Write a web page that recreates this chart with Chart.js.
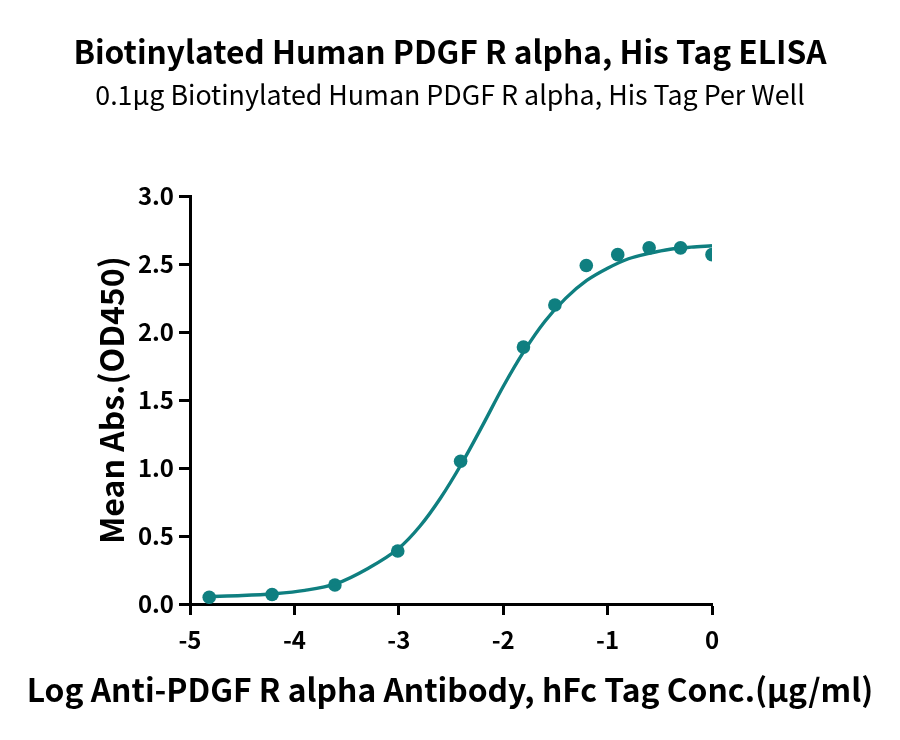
<!DOCTYPE html>
<html>
<head>
<meta charset="utf-8">
<script src="https://cdn.jsdelivr.net/npm/chart.js@4"></script>
<style>
html,body{margin:0;padding:0;background:#fff;}
#wrap{width:900px;height:740px;}
</style>
</head>
<body>
<div id="wrap"><canvas id="c" width="900" height="740"></canvas></div>
<script>
const logConc = [-4.816, -4.214, -3.612, -3.010, -2.408, -1.806, -1.505, -1.204, -0.903, -0.602, -0.301, 0.000];
const meanAbs = [0.05, 0.07, 0.14, 0.39, 1.05, 1.89, 2.20, 2.49, 2.57, 2.62, 2.62, 2.57];
const fitX = [-4.82, -4.5, -4.2, -3.9, -3.6, -3.3, -3.0, -2.8, -2.6, -2.4, -2.2, -2.0, -1.8, -1.6, -1.4, -1.2, -1.0, -0.8, -0.6, -0.4, -0.2, 0.0];
const fitY = [0.055, 0.062, 0.075, 0.10, 0.15, 0.26, 0.41, 0.57, 0.78, 1.03, 1.31, 1.60, 1.86, 2.08, 2.25, 2.38, 2.47, 2.54, 2.58, 2.61, 2.625, 2.635];
const xTicks = [-5, -4, -3, -2, -1, 0];
const yTicks = [0.0, 0.5, 1.0, 1.5, 2.0, 2.5, 3.0];

const teal = '#0f7f80';
const FONT = "'Noto Sans CJK SC', 'Noto Sans', sans-serif";

const pts = logConc.map((x, i) => ({x: x, y: meanAbs[i]}));
const fit = fitX.map((x, i) => ({x: x, y: fitY[i]}));

new Chart(document.getElementById('c'), {
  type: 'scatter',
  data: {
    datasets: [
      {
        label: 'fit',
        data: fit,
        showLine: true,
        borderColor: teal,
        borderWidth: 3.4,
        pointRadius: 0,
        cubicInterpolationMode: 'monotone',
        fill: false
      },
      {
        label: 'data',
        data: pts,
        showLine: false,
        backgroundColor: teal,
        borderColor: teal,
        pointRadius: 6.8,
        pointBorderWidth: 0
      }
    ]
  },
  options: {
    responsive: false,
    animation: false,
    devicePixelRatio: 1,
    layout: {padding: 0},
    plugins: {
      legend: {display: false},
      tooltip: {enabled: false},
      title: {
        display: true,
        text: 'Biotinylated Human PDGF R alpha, His Tag ELISA',
        color: '#000',
        font: {family: FONT, size: 31.7, weight: 'bold', lineHeight: 1.2},
        padding: {top: 33, bottom: 4}
      },
      subtitle: {
        display: true,
        text: '0.1μg Biotinylated Human PDGF R alpha, His Tag Per Well',
        color: '#000',
        font: {family: FONT, size: 26.8, weight: 'normal', lineHeight: 1.2},
        padding: {top: 4, bottom: 85}
      }
    },
    scales: {
      x: {
        type: 'linear',
        min: -5, max: 0,
        afterBuildTicks: (s) => { s.ticks = xTicks.map(v => ({value: v})); },
        afterFit: (s) => { s.height = 57; },
        ticks: {
          color: '#000',
          font: {family: FONT, size: 24, weight: 'bold'},
          padding: 10,
          maxRotation: 0,
          callback: (v) => String(v)
        },
        grid: {drawOnChartArea: false, drawTicks: true, tickLength: 11, tickWidth: 3, tickColor: '#000'},
        border: {color: '#000', width: 3},
        title: {display: false}
      },
      xTitle: {
        type: 'linear',
        axis: 'x',
        position: 'bottom',
        fullSize: true,
        min: -5, max: 0,
        afterFit: (s) => { s.height = 79; },
        ticks: {display: false},
        grid: {display: false, drawTicks: false},
        border: {display: false},
        title: {
          display: true,
          text: 'Log Anti-PDGF R alpha Antibody, hFc Tag Conc.(μg/ml)',
          color: '#000',
          font: {family: FONT, size: 31.8, weight: 'bold', lineHeight: 1.2},
          padding: {top: 0, bottom: 31}
        }
      },
      y: {
        type: 'linear',
        min: 0, max: 3,
        afterBuildTicks: (s) => { s.ticks = yTicks.map(v => ({value: v})); },
        afterFit: (s) => { s.width = 190; },
        ticks: {
          color: '#000',
          font: {family: FONT, size: 24, weight: 'bold'},
          padding: 5,
          callback: (v) => Number(v).toFixed(1)
        },
        grid: {drawOnChartArea: false, drawTicks: true, tickLength: 11, tickWidth: 3, tickColor: '#000'},
        border: {color: '#000', width: 3},
        title: {
          display: true,
          text: 'Mean Abs.(OD450)',
          color: '#000',
          font: {family: FONT, size: 32, weight: 'bold', lineHeight: 1.2},
          padding: {top: 93, bottom: 0}
        }
      },
      yRight: {
        type: 'linear',
        position: 'right',
        min: 0, max: 3,
        afterFit: (s) => { s.width = 188; },
        ticks: {display: false},
        grid: {display: false, drawTicks: false},
        border: {display: false},
        title: {display: false}
      }
    }
  }
});
</script>
</body>
</html>
